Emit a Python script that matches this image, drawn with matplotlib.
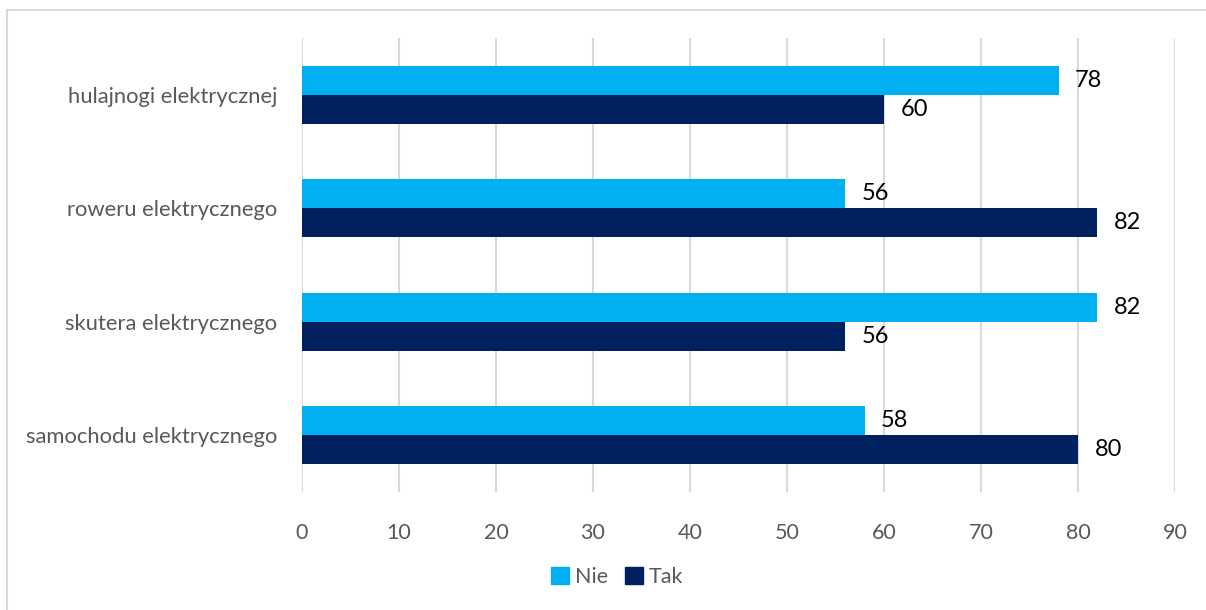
import numpy as np
from matplotlib import pyplot as plt
from matplotlib.lines import Line2D

# data
categories = ['samochodu elektrycznego', 'skutera elektrycznego',
              'roweru elektrycznego', 'hulajnogi elektrycznej']
nie = [58, 82, 56, 78]
tak = [80, 56, 82, 60]
ticks = np.arange(0, 91, 10)

plt.rcParams['font.family'] = ['Lato', 'DejaVu Sans']

fig = plt.figure(figsize=(12.06, 6.10), dpi=100)
ax = fig.add_axes([0.2504, 0.1934, 0.7239, 0.7443])

y = np.arange(len(categories))
h = 0.257
c_nie = '#00B0F0'
c_tak = '#002060'

ax.barh(y + h / 2, nie, height=h, color=c_nie, label='Nie', zorder=3)
ax.barh(y - h / 2, tak, height=h, color=c_tak, label='Tak', zorder=3)

for yi, v in zip(y, nie):
    ax.text(v + 1.7, yi + h / 2, str(v), va='center', ha='left', fontsize=17, color='black')
for yi, v in zip(y, tak):
    ax.text(v + 1.7, yi - h / 2, str(v), va='center', ha='left', fontsize=17, color='black')

ax.set_xlim(0, 90)
ax.set_ylim(-0.5, 3.5)
ax.set_xticks(ticks)
ax.set_yticks(y)
ax.set_yticklabels(categories)
ax.tick_params(axis='x', length=0, pad=22, labelsize=15.5, labelcolor='#595959')
ax.tick_params(axis='y', length=0, pad=18, labelsize=15.8, labelcolor='#595959')
ax.grid(axis='x', color='#D9D9D9', linewidth=1.5, zorder=0)
for s in ax.spines.values():
    s.set_visible(False)

handles = [plt.Rectangle((0, 0), 1, 1, color=c_nie), plt.Rectangle((0, 0), 1, 1, color=c_tak)]
fig.legend(handles, ['Nie', 'Tak'], loc='center', bbox_to_anchor=(0.512, 0.054), ncol=2,
           frameon=False, fontsize=15.5, labelcolor='#595959', handlelength=0.8,
           handleheight=0.8, handletextpad=0.3, columnspacing=0.8)

# outer border (left and top visible)
fig.add_artist(Line2D([7 / 1206, 7 / 1206], [0, 1 - 10 / 610], transform=fig.transFigure,
                      color='#D9D9D9', linewidth=1.5))
fig.add_artist(Line2D([7 / 1206, 1], [1 - 10 / 610, 1 - 10 / 610], transform=fig.transFigure,
                      color='#D9D9D9', linewidth=1.5))

fig.savefig('out.png', dpi=100)
